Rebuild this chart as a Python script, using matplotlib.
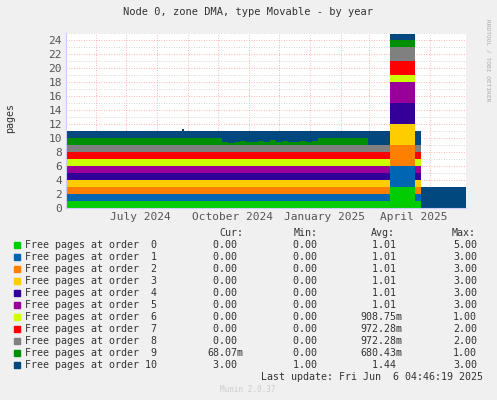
import matplotlib
matplotlib.use("Agg")
import matplotlib.pyplot as plt
import numpy as np

# day offsets (day 0 = 2024-05-02), segment boundaries
days = [0,116,118,156,162,168,174,180,186,192,198,204,210,216,222,228,234,240,246,252,302,324,349,355,400]
V = [0.4,0.3,0.5,0.6,0.4,0.5,0.6,0.5,0.7,0.5,0.6,0.4,0.5,0.6,0.5,0.6]
V10 = [1.6,1.7,1.5,1.4,1.6,1.5,1.4,1.5,1.3,1.5,1.4,1.6,1.5,1.4,1.5,1.4]
order0 = [1,1,1]+[1]*16+[1,1,3,1,0]
order1 = [1,1,1]+[1]*16+[1,1,3,1,0]
order2 = [1,1,1]+[1]*16+[1,1,3,1,0]
order3 = [1,1,1]+[1]*16+[1,1,3,1,0]
order4 = [1,1,1]+[1]*16+[1,1,3,1,0]
order5 = [1,1,1]+[1]*16+[1,1,3,1,0]
order6 = [1,1,1]+[1]*16+[1,1,1,1,0]
order7 = [1,1,1]+[1]*16+[1,1,2,1,0]
order8 = [1,1,1]+[1]*16+[1,1,2,1,0]
order9 = [1,1,1]+V+[1,0,1,0,0]
order10 = [1,1.3,1]+V10+[1,2,0.8,2,3]
series = [order0,order1,order2,order3,order4,order5,order6,order7,order8,order9,order10]
colors = ['#00CC00','#0066B3','#FF8000','#FFCC00','#330099','#990099','#CCFF00','#FF0000','#808080','#008F00','#00487D']
labels = ["Free pages at order %2d" % i for i in range(11)]
cur = ["0.00 "]*9+["68.07m","3.00 "]
mins = ["0.00 "]*10+["1.00 "]
avgs = ["1.01 "]*6+["908.75m","972.28m","972.28m","680.43m","1.44 "]
maxs = ["5.00"]+["3.00"]*5+["1.00","2.00","2.00","1.00","3.00"]
month_starts = [30,60,91,122,152,183,213,244,275,303,334,364]
xlabel_pos = [74,167,258,348]
xlabel_txt = ["July 2024","October 2024","January 2025","April 2025"]

W,H = 497,400
fig = plt.figure(figsize=(W/100,H/100),dpi=100,facecolor='#F0F0F0')
ax = fig.add_axes([66/W,(H-208)/H,400/W,175/H])
ax.set_facecolor('white')
mono = 'DejaVu Sans Mono'

x = np.array(days,float)
base = np.zeros(len(days))
for s,c in zip(series,colors):
    v = np.array(s+[s[-1]],float)
    ax.fill_between(x,base,base+v,step='post',color=c,lw=0)
    base = base+v

ax.set_xlim(0,400); ax.set_ylim(0,25)
for yv in range(1,26):
    ax.axhline(yv,color='#FF9999' if yv%2==0 else '#CCCCCC',ls=(0,(1,2)),lw=0.6,zorder=0)
for m in month_starts:
    ax.axvline(m,color='#FF9999',ls=(0,(1,2)),lw=0.6,zorder=0)
ax.set_axisbelow(True)
ax.set_yticks(range(0,25,2))
ax.set_xticks(xlabel_pos); ax.set_xticklabels(xlabel_txt)
ax.tick_params(length=0,labelsize=8,colors='#555555',pad=3)
for l in ax.get_xticklabels()+ax.get_yticklabels():
    l.set_family(mono)
for k in ['top','right']:
    ax.spines[k].set_visible(False)
for k in ['left','bottom']:
    ax.spines[k].set_color('#CCCCFF')

def T(px,py,s,**kw):
    kw.setdefault('family',mono); kw.setdefault('size',7.2); kw.setdefault('color','#333333')
    fig.text(px/W,1-py/H,s,va='center',**kw)

T(248,12,"Node 0, zone DMA, type Movable - by year",ha='center',size=7.5)
T(10,118,"pages",ha='center',rotation=90)
T(488,60,"RRDTOOL / TOBI OETIKER",ha='center',rotation=270,size=4.5,color='#AAAAAA')
T(243,233,"Cur:",ha='right'); T(318,233,"Min:",ha='right')
T(395,233,"Avg:",ha='right'); T(476,233,"Max:",ha='right')
for i in range(11):
    y = 245+12*i
    fig.patches.append(plt.Rectangle((14/W,1-(y+3)/H),6/W,6/H,transform=fig.transFigure,color=colors[i]))
    T(25,y,labels[i],ha='left')
    T(243,y,cur[i],ha='right'); T(323,y,mins[i],ha='right')
    T(402,y,avgs[i],ha='right'); T(477,y,maxs[i],ha='right')
T(483,377,"Last update: Fri Jun  6 04:46:19 2025",ha='right')
T(248,390,"Munin 2.0.37",ha='center',size=5.5,color='#CCCCCC')
fig.savefig('out.png',dpi=100,facecolor=fig.get_facecolor())
